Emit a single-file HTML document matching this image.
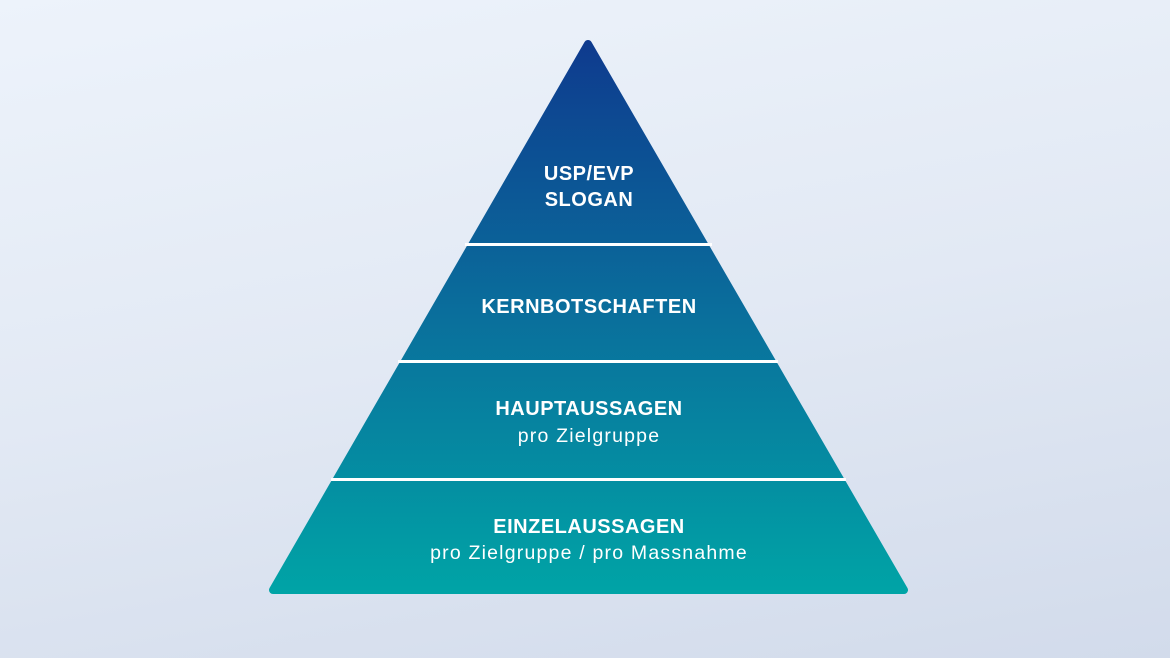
<!DOCTYPE html>
<html><head><style>
html,body{margin:0;padding:0;width:1170px;height:658px;overflow:hidden}
body{background:linear-gradient(170deg,#edf3fb 0%,#e2e9f4 50%,#d2dbeb 100%)}
</style></head><body>
<svg width="1170" height="658" viewBox="0 0 1170 658" style="position:absolute;left:0;top:0">
<defs>
<linearGradient id="g" x1="0" y1="39" x2="0" y2="594" gradientUnits="userSpaceOnUse">
<stop offset="0" stop-color="#0e3a8e"/>
<stop offset="0.5" stop-color="#0a6f9c"/>
<stop offset="1" stop-color="#00a4a6"/>
</linearGradient>
</defs>
<polygon points="588,44 904,590 273,590" fill="url(#g)" stroke="url(#g)" stroke-width="8" stroke-linejoin="round"/>
<g stroke="#ffffff" stroke-width="3">
<line x1="465" y1="244.5" x2="712" y2="244.5"/>
<line x1="398" y1="361.5" x2="778" y2="361.5"/>
<line x1="331" y1="479.5" x2="846" y2="479.5"/>
</g>
<g font-family="Liberation Sans, sans-serif" fill="#fff" text-anchor="middle">
<g font-weight="bold" font-size="20" letter-spacing="0.5">
<text x="589" y="180">USP/EVP</text>
<text x="589" y="206">SLOGAN</text>
<text x="589" y="313">KERNBOTSCHAFTEN</text>
<text x="589" y="415">HAUPTAUSSAGEN</text>
<text x="589" y="533">EINZELAUSSAGEN</text>
</g>
<g font-size="19.5" letter-spacing="1.2">
<text x="589" y="442">pro Zielgruppe</text>
<text x="589" y="559">pro Zielgruppe / pro Massnahme</text>
</g>
</g>
</svg>
</body></html>
